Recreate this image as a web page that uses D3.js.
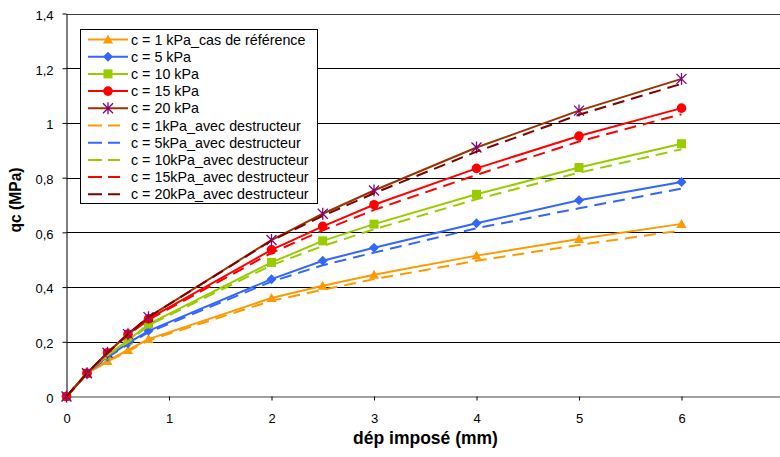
<!DOCTYPE html>
<html><head><meta charset="utf-8">
<script src="https://cdn.jsdelivr.net/npm/d3@7"></script>
<style>
html,body{margin:0;padding:0;background:#fff;}
svg{display:block;font-family:"Liberation Sans",Arial,sans-serif;}
</style></head>
<body>
<svg id="chart" width="780" height="457"></svg>
<script>
const xValues = [0, 0.2, 0.4, 0.6, 0.8, 2, 2.5, 3, 4, 5, 6];
const seriesNames = [
  "c = 1 kPa_cas de référence", "c = 5 kPa", "c = 10 kPa", "c = 15 kPa", "c = 20 kPa",
  "c = 1kPa_avec destructeur", "c = 5kPa_avec destructeur", "c = 10kPa_avec destructeur",
  "c = 15kPa_avec destructeur", "c = 20kPa_avec destructeur"
];
const c1  = [0, 0.085, 0.130, 0.170, 0.210, 0.360, 0.405, 0.445, 0.515, 0.576, 0.631];
const c5  = [0, 0.085, 0.145, 0.195, 0.240, 0.429, 0.496, 0.544, 0.633, 0.717, 0.784];
const c10 = [0, 0.085, 0.152, 0.205, 0.265, 0.490, 0.569, 0.630, 0.739, 0.837, 0.924];
const c15 = [0, 0.085, 0.160, 0.228, 0.284, 0.536, 0.622, 0.701, 0.834, 0.952, 1.054];
const c20 = [0, 0.085, 0.160, 0.228, 0.290, 0.572, 0.668, 0.753, 0.910, 1.045, 1.161];
const d1  = [0, 0.083, 0.128, 0.165, 0.205, 0.350, 0.390, 0.429, 0.496, 0.554, 0.607];
const d5  = [0, 0.084, 0.143, 0.190, 0.235, 0.420, 0.480, 0.526, 0.615, 0.688, 0.760];
const d10 = [0, 0.085, 0.150, 0.200, 0.260, 0.480, 0.550, 0.611, 0.721, 0.818, 0.904];
const d15 = [0, 0.085, 0.158, 0.225, 0.280, 0.525, 0.607, 0.682, 0.810, 0.932, 1.032];
const d20 = [0, 0.085, 0.160, 0.228, 0.290, 0.570, 0.660, 0.743, 0.895, 1.030, 1.143];
const yTickValues = [0, 0.2, 0.4, 0.6, 0.8, 1, 1.2, 1.4];
const yTickLabels = ["0", "0,2", "0,4", "0,6", "0,8", "1", "1,2", "1,4"];
const xTickValues = [0, 1, 2, 3, 4, 5, 6];
const xLabel = "dép imposé (mm)";
const yLabel = "qc (MPa)";

const seriesValues = [c1, c5, c10, c15, c20, d1, d5, d10, d15, d20];
const colors = ["#FF9900", "#3366FF", "#99CC00", "#FF0000", "#993300",
                "#FF9900", "#3366FF", "#99CC00", "#FF0000", "#800000"];
const markerTypes = ["triangle", "diamond", "square", "circle", "star", null, null, null, null, null];
const markerColors = ["#FF9900", "#3366FF", "#99CC00", "#FF0000", "#800080"];

const svg = d3.select("#chart");
const pLeft = 66.5, pTop = 13.5, pBottom = 396.5;
const x = d3.scaleLinear().domain([0, 7]).range([pLeft, pLeft + 7 * 102.5]);
const y = d3.scaleLinear().domain([0, 1.4]).range([pBottom, pTop]);

// gridlines
svg.append("g").selectAll("line").data(yTickValues.filter(v => v > 0)).join("line")
  .attr("x1", pLeft).attr("x2", 780)
  .attr("y1", d => Math.round(y(d)) + 0.5).attr("y2", d => Math.round(y(d)) + 0.5)
  .attr("stroke", d => d === 1.4 ? "#404040" : "#000").attr("stroke-width", 1);

// y axis
const yAxis = d3.axisLeft(y).tickValues(yTickValues)
  .tickFormat((d, i) => yTickLabels[i]).tickSize(4).tickSizeOuter(0);
const gy = svg.append("g").attr("transform", `translate(${pLeft},0)`).call(yAxis);
gy.select(".domain").attr("stroke", "#000");
gy.selectAll(".tick line").attr("stroke", "#000");
gy.selectAll(".tick text").attr("font-size", 13).attr("fill", "#000")
  .attr("font-family", "Liberation Sans, Arial, sans-serif").attr("x", -13).attr("dy", "0.45em");

// x axis
const xAxis = d3.axisBottom(x).tickValues(xTickValues).tickSize(4).tickSizeOuter(0).tickFormat(d3.format("d"));
const gx = svg.append("g").attr("transform", `translate(0,${pBottom})`).call(xAxis);
gx.select(".domain").attr("stroke", "#808080").attr("stroke-width", 1.5);
gx.selectAll(".tick line").attr("stroke", "#000");
gx.selectAll(".tick text").attr("font-size", 13).attr("fill", "#000")
  .attr("font-family", "Liberation Sans, Arial, sans-serif").attr("dy", "1.5em");

// axis titles
svg.append("text").attr("x", 425.5).attr("y", 443.5).attr("text-anchor", "middle")
  .attr("font-size", 17.5).attr("font-weight", "bold").text(xLabel);
svg.append("text").attr("transform", `translate(21,200) rotate(-90)`)
  .attr("text-anchor", "middle").attr("font-size", 15.6).attr("font-weight", "bold").text(yLabel);

function drawMarker(g, type, cx, cy, color) {
  if (type === "triangle") {
    g.append("path").attr("d", `M${cx},${cy - 5}L${cx + 5},${cy + 4}L${cx - 5},${cy + 4}Z`).attr("fill", color);
  } else if (type === "diamond") {
    g.append("path").attr("d", `M${cx},${cy - 5}L${cx + 5},${cy}L${cx},${cy + 5}L${cx - 5},${cy}Z`).attr("fill", color);
  } else if (type === "square") {
    g.append("rect").attr("x", cx - 4.5).attr("y", cy - 4.5).attr("width", 9).attr("height", 9).attr("fill", color);
  } else if (type === "circle") {
    g.append("circle").attr("cx", cx).attr("cy", cy).attr("r", 4.8).attr("fill", color);
  } else if (type === "star") {
    const r = 5;
    g.append("path").attr("d",
      `M${cx - r},${cy - r}L${cx + r},${cy + r}M${cx - r},${cy + r}L${cx + r},${cy - r}M${cx},${cy - r - 1}L${cx},${cy + r + 1}`)
      .attr("stroke", color).attr("stroke-width", 1.3).attr("fill", "none");
  }
}

const line = d3.line().x((d, i) => x(xValues[i])).y(d => y(d));
const plot = svg.append("g");
seriesValues.forEach((vals, s) => {
  const g = plot.append("g");
  g.append("path").datum(vals).attr("d", line).attr("fill", "none")
    .attr("stroke", colors[s]).attr("stroke-width", 2)
    .attr("stroke-dasharray", s >= 5 ? "12,7" : null);
  if (markerTypes[s]) {
    vals.forEach((v, i) => drawMarker(g, markerTypes[s], x(xValues[i]), y(v), markerColors[s]));
  }
});

// legend
const lg = svg.append("g");
lg.append("rect").attr("x", 80.5).attr("y", 29.5).attr("width", 237).attr("height", 174)
  .attr("fill", "#fff").attr("stroke", "#000").attr("stroke-width", 1);
seriesNames.forEach((name, s) => {
  const cy = 39.5 + s * 17.2;
  lg.append("line").attr("x1", 88).attr("x2", 128).attr("y1", cy).attr("y2", cy)
    .attr("stroke", colors[s]).attr("stroke-width", 2)
    .attr("stroke-dasharray", s >= 5 ? "14,6,12" : null);
  if (markerTypes[s]) drawMarker(lg, markerTypes[s], 108, cy, markerColors[s]);
  lg.append("text").attr("x", 131).attr("y", cy + 5).attr("font-size", 14.3).attr("fill", "#000").text(name);
});
</script>
</body></html>
